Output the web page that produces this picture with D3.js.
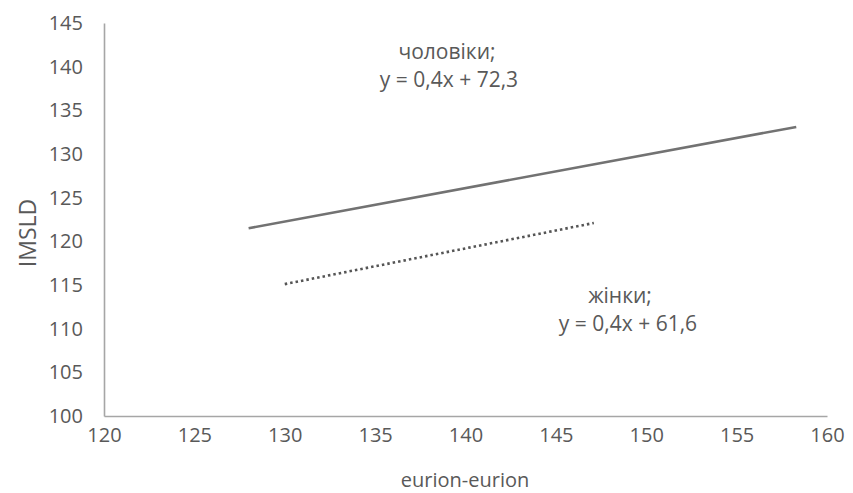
<!DOCTYPE html>
<html>
<head>
<meta charset="utf-8">
<script src="https://cdn.jsdelivr.net/npm/d3@7"></script>
<style>
  body { margin: 0; background: #fff; }
  text { font-family: "Open Sans", sans-serif; fill: #595959; }
</style>
</head>
<body>
<svg width="853" height="493"></svg>
<script>
var svg = d3.select("svg");
var margin = { top: 23, right: 26, bottom: 77, left: 104 };
var width = +svg.attr("width") - margin.left - margin.right;
var height = +svg.attr("height") - margin.top - margin.bottom;

// tick values
var xTicks = [120, 125, 130, 135, 140, 145, 150, 155, 160];
var yTicks = [100, 105, 110, 115, 120, 125, 130, 135, 140, 145];

// trend lines
var menLine = [{ x: 128, y: 121.5 }, { x: 158.3, y: 133.1 }];
var womenLine = [{ x: 130, y: 115.1 }, { x: 147.1, y: 122.1 }];

var menLabel = ["чоловіки;", "y = 0,4x + 72,3"];
var womenLabel = ["жінки;", "y = 0,4x + 61,6"];

var x = d3.scaleLinear().domain([120, 160]).range([0, width]);
var y = d3.scaleLinear().domain([100, 145]).range([height, 0]);

var g = svg.append("g")
    .attr("transform", "translate(" + margin.left + "," + margin.top + ")");

// axes
var xAxis = g.append("g")
    .attr("transform", "translate(0," + height + ")")
    .call(d3.axisBottom(x).tickValues(xTicks).tickSize(0).tickPadding(12));
var yAxis = g.append("g")
    .call(d3.axisLeft(y).tickValues(yTicks).tickSize(0).tickPadding(21));

[xAxis, yAxis].forEach(function(a) {
  a.select(".domain").attr("stroke", "#a6a6a6").attr("stroke-width", 1.6);
  a.selectAll("text")
    .style("font-family", "'Open Sans', sans-serif")
    .style("font-size", "20px")
    .attr("fill", "#595959");
});

var line = d3.line()
    .x(function(d) { return x(d.x); })
    .y(function(d) { return y(d.y); });

g.append("path")
    .datum(menLine)
    .attr("fill", "none")
    .attr("stroke", "#727272")
    .attr("stroke-width", 2.6)
    .attr("d", line);

g.append("path")
    .datum(womenLine)
    .attr("fill", "none")
    .attr("stroke", "#555")
    .attr("stroke-width", 2.6)
    .attr("stroke-dasharray", "2.5,3")
    .attr("d", line);

// equation labels
function addLabel(lines, cx, cy, dx) {
  var t = g.append("text")
      .attr("text-anchor", "middle")
      .style("font-size", "21px");
  lines.forEach(function(s, i) {
    t.append("tspan")
      .attr("x", cx + i * dx)
      .attr("y", cy + i * 28)
      .text(s);
  });
}
addLabel(menLabel, 447 - margin.left, 59 - margin.top, 2);
addLabel(womenLabel, 620 - margin.left, 303 - margin.top, 8);

// axis titles
svg.append("text")
    .attr("x", 465)
    .attr("y", 487)
    .attr("text-anchor", "middle")
    .style("font-size", "20px")
    .text("eurion-eurion");

svg.append("text")
    .attr("transform", "translate(36,233) rotate(-90)")
    .attr("text-anchor", "middle")
    .style("font-size", "23px")
    .text("IMSLD");
</script>
</body>
</html>
